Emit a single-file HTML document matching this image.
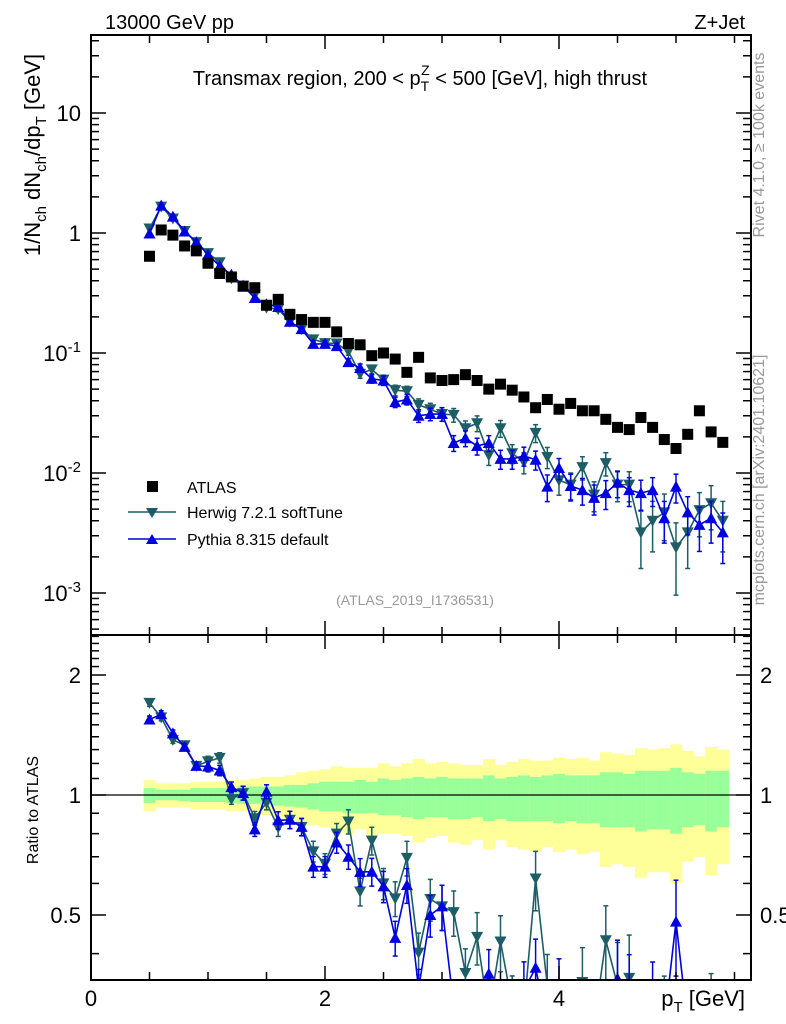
<!DOCTYPE html>
<html><head><meta charset="utf-8"><style>
html,body{margin:0;background:#fff;overflow:hidden;width:786px;height:1024px}
svg{display:block;font-family:"Liberation Sans",Arial,sans-serif}
</style></head><body>
<svg id="c" width="786" height="1024" viewBox="0 0 786 1024" xmlns="http://www.w3.org/2000/svg">
<g id="bands"></g>
<g id="marks"></g>
<g id="axes"></g>
<text x="105" y="29" font-size="20">13000 GeV pp</text>
<text x="745" y="29" font-size="20" text-anchor="end">Z+Jet</text>
<text x="420" y="85" font-size="20" text-anchor="middle">Transmax region, 200 &lt; p<tspan font-size="14" dy="6">T</tspan><tspan font-size="14" dx="-8" dy="-16">Z</tspan><tspan dy="10"> &lt; 500 [GeV], high thrust</tspan></text>
<text transform="translate(40,155) rotate(-90)" font-size="22" text-anchor="middle">1/N<tspan font-size="15" dy="6">ch</tspan><tspan dy="-6"> dN</tspan><tspan font-size="15" dy="6">ch</tspan><tspan dy="-6">/dp</tspan><tspan font-size="15" dy="6">T</tspan><tspan dy="-6"> [GeV]</tspan></text>
<text transform="translate(38,810) rotate(-90)" font-size="16" text-anchor="middle">Ratio to ATLAS</text>
<text x="745" y="1006" font-size="22" text-anchor="end">p<tspan font-size="15" dy="6">T</tspan><tspan dy="-6"> [GeV]</tspan></text>
<text transform="translate(764,145) rotate(-90)" font-size="16" fill="#999" text-anchor="middle">Rivet 4.1.0, ≥ 100k events</text>
<text transform="translate(764,480) rotate(-90)" font-size="16" fill="#999" text-anchor="middle">mcplots.cern.ch [arXiv:2401.10621]</text>
<text x="415" y="605" font-size="14" fill="#999" text-anchor="middle">(ATLAS_2019_I1736531)</text>
<g>
<rect x="147" y="481" width="11" height="11" fill="#000"/>
<text x="187" y="493" font-size="16">ATLAS</text>
<line x1="128" y1="512" x2="176" y2="512" stroke="#1c5d66" stroke-width="1.5"/>
<path d="M146,508 L158,508 L152,518 Z" fill="#1c5d66"/>
<text x="187" y="518" font-size="16">Herwig 7.2.1 softTune</text>
<line x1="128" y1="539" x2="176" y2="539" stroke="#0000e0" stroke-width="1.5"/>
<path d="M146,544 L158,544 L152,534 Z" fill="#0000e0"/>
<text x="187" y="545" font-size="16">Pythia 8.315 default</text>
</g>
</svg>
<script>
const pt=[0.5,0.6,0.7,0.8,0.9,1.0,1.1,1.2,1.3,1.4,1.5,1.6,1.7,1.8,1.9,2.0,2.1,2.2,2.3,2.4,2.5,2.6,2.7,2.8,2.9,3.0,3.1,3.2,3.3,3.4,3.5,3.6,3.7,3.8,3.9,4.0,4.1,4.2,4.3,4.4,4.5,4.6,4.7,4.8,4.9,5.0,5.1,5.2,5.3,5.4];
const atlas=[0.64,1.06,0.96,0.78,0.71,0.56,0.46,0.43,0.36,0.35,0.25,0.28,0.21,0.19,0.18,0.18,0.15,0.12,0.117,0.095,0.10,0.089,0.069,0.092,0.062,0.059,0.060,0.066,0.059,0.050,0.055,0.049,0.043,0.035,0.041,0.034,0.038,0.033,0.033,0.028,0.024,0.023,0.029,0.024,0.019,0.016,0.021,0.033,0.022,0.018];
const herwig=[1.09,1.66,1.32,1.04,0.84,0.68,0.57,0.42,0.364,0.306,0.239,0.232,0.182,0.158,0.130,0.121,0.120,0.103,0.067,0.073,0.060,0.049,0.048,0.037,0.034,0.031,0.0305,0.0236,0.026,0.0141,0.0236,0.0146,0.0123,0.0216,0.0136,0.0087,0.0080,0.0112,0.0066,0.0121,0.0080,0.0080,0.0032,0.0040,0.0047,0.0024,0.0032,0.0049,0.0056,0.0040];
const pythia=[0.99,1.69,1.37,1.03,0.84,0.66,0.53,0.45,0.364,0.287,0.255,0.242,0.182,0.158,0.119,0.119,0.114,0.084,0.075,0.061,0.059,0.039,0.041,0.030,0.031,0.031,0.0178,0.0195,0.0168,0.0178,0.0131,0.0131,0.0139,0.0129,0.0077,0.0110,0.0078,0.0072,0.0062,0.0068,0.0083,0.0072,0.0068,0.0072,0.0042,0.0077,0.0047,0.0037,0.0042,0.0032];
const herwigErr=[0.02,0.02,0.02,0.02,0.02,0.03,0.03,0.03,0.04,0.04,0.04,0.05,0.05,0.05,0.06,0.06,0.06,0.07,0.08,0.08,0.09,0.1,0.1,0.12,0.12,0.13,0.13,0.15,0.15,0.18,0.16,0.18,0.2,0.17,0.2,0.25,0.25,0.22,0.28,0.22,0.28,0.28,0.5,0.45,0.42,0.6,0.5,0.4,0.4,0.45];
const pythiaErr=[0.02,0.02,0.02,0.02,0.02,0.03,0.03,0.03,0.04,0.04,0.04,0.05,0.05,0.05,0.06,0.06,0.06,0.07,0.08,0.08,0.09,0.1,0.1,0.12,0.12,0.13,0.15,0.15,0.16,0.15,0.18,0.18,0.18,0.18,0.25,0.2,0.25,0.25,0.28,0.27,0.25,0.27,0.28,0.27,0.38,0.27,0.35,0.4,0.38,0.45];
const yelUp=[1.09,1.07,1.07,1.07,1.08,1.08,1.08,1.09,1.09,1.10,1.11,1.11,1.12,1.14,1.15,1.16,1.18,1.17,1.17,1.17,1.20,1.18,1.20,1.23,1.20,1.21,1.20,1.19,1.19,1.23,1.19,1.21,1.23,1.22,1.22,1.24,1.23,1.24,1.22,1.28,1.27,1.26,1.31,1.30,1.31,1.34,1.29,1.25,1.32,1.30];
const yelDn=[0.91,0.93,0.93,0.93,0.92,0.92,0.92,0.91,0.91,0.90,0.89,0.88,0.87,0.86,0.84,0.83,0.82,0.80,0.82,0.79,0.80,0.80,0.79,0.76,0.78,0.79,0.76,0.75,0.77,0.73,0.77,0.74,0.73,0.72,0.74,0.72,0.73,0.71,0.72,0.66,0.67,0.66,0.62,0.64,0.64,0.60,0.68,0.70,0.63,0.67];
const grnUp=[1.04,1.03,1.03,1.03,1.04,1.04,1.04,1.04,1.05,1.05,1.05,1.05,1.06,1.06,1.07,1.08,1.08,1.08,1.09,1.08,1.10,1.09,1.10,1.11,1.10,1.11,1.10,1.10,1.10,1.12,1.10,1.11,1.12,1.11,1.12,1.13,1.12,1.12,1.12,1.14,1.14,1.13,1.15,1.15,1.15,1.17,1.14,1.13,1.15,1.15];
const grnDn=[0.955,0.97,0.97,0.965,0.96,0.96,0.96,0.955,0.95,0.95,0.945,0.94,0.935,0.93,0.92,0.91,0.91,0.90,0.90,0.90,0.89,0.89,0.88,0.87,0.88,0.88,0.87,0.87,0.88,0.86,0.87,0.86,0.86,0.86,0.86,0.85,0.86,0.85,0.85,0.83,0.83,0.83,0.81,0.82,0.82,0.80,0.83,0.84,0.81,0.83];
const xTicks=[0,2,4];
const mainTicks=[{v:10,l:"10"},{v:1,l:"1"},{v:0.1,l:"10^-1"},{v:0.01,l:"10^-2"},{v:0.001,l:"10^-3"}];
const ratioTicks=[{v:2,l:"2"},{v:1,l:"1"},{v:0.5,l:"0.5"}];

const NS="http://www.w3.org/2000/svg";
const L=91,R=751,T=35,M=635,B=980;
const clampY=y=>Math.max(0,Math.min(1024,y));
const X=v=>L+v*117;
const Y=v=>clampY(233-120*Math.log10(v));
const YR=v=>clampY(795-398.6*Math.log10(v));
function el(tag,attrs,parent){const e=document.createElementNS(NS,tag);for(const k in attrs)e.setAttribute(k,attrs[k]);parent.appendChild(e);return e;}
const bands=document.getElementById('bands'),marks=document.getElementById('marks'),axes=document.getElementById('axes');
const HC="#1c5d66",PC="#0000e0";

const cy=document.createElementNS(NS,'clipPath');cy.setAttribute('id','rc');bands.appendChild(cy);
el('rect',{x:L,y:M,width:R-L,height:B-M},cy);
const cm=document.createElementNS(NS,'clipPath');cm.setAttribute('id','mc');bands.appendChild(cm);
el('rect',{x:L,y:T,width:R-L,height:M-T},cm);
pt.forEach((p,i)=>{
  const x0=X(p-0.05),w=X(p+0.05)-x0+0.5;
  const a=el('rect',{x:x0,y:YR(yelUp[i]),width:w,height:YR(yelDn[i])-YR(yelUp[i]),fill:"#ffff99"},bands);
  
  
  const g=el('rect',{x:x0,y:YR(grnUp[i]),width:w,height:YR(grnDn[i])-YR(grnUp[i]),fill:"#99ff99"},bands);
  
  
});
el('line',{x1:L,y1:YR(1),x2:R,y2:YR(1),stroke:"#000","stroke-width":1.2},bands);

function drawSeries(vals,errs,color,down,yf,clip,name,ratio){
  const g=el('g',{'clip-path':'url(#'+clip+')'},marks);
  
  
  const v=vals.map((d,i)=>ratio?d/atlas[i]:d);
  el('polyline',{points:pt.map((p,i)=>X(p)+','+yf(v[i])).join(' '),fill:"none",stroke:color,"stroke-width":1.6},g);
  pt.forEach((p,i)=>{
    const x=X(p),y=yf(v[i]),up=yf(v[i]*(1+errs[i])),dn=yf(Math.max(v[i]*(1-errs[i]),1e-6));
    el('line',{x1:x,y1:up,x2:x,y2:dn,stroke:color,"stroke-width":1.5},g);
    el('line',{x1:x-2.5,y1:up,x2:x+2.5,y2:up,stroke:color,"stroke-width":1.5},g);
    el('line',{x1:x-2.5,y1:dn,x2:x+2.5,y2:dn,stroke:color,"stroke-width":1.5},g);
    if(y>=1024||y<=0)return;
    const d=down?`M${x-6},${y-5} L${x+6},${y-5} L${x},${y+6} Z`:`M${x-6},${y+5} L${x+6},${y+5} L${x},${y-6} Z`;
    const m=el('path',{d:d,fill:color},g);
    
    
  });
}
drawSeries(herwig,herwigErr,HC,true,Y,'mc','herwig-series',false);
drawSeries(pythia,pythiaErr,PC,false,Y,'mc','pythia-series',false);
drawSeries(herwig,herwigErr,HC,true,YR,'rc','herwig-ratio',true);
drawSeries(pythia,pythiaErr,PC,false,YR,'rc','pythia-ratio',true);
const ag=el('g',{'clip-path':'url(#mc)'},marks);
pt.forEach((p,i)=>{
  const s=el('rect',{x:X(p)-5.5,y:Y(atlas[i])-5.5,width:11,height:11,fill:"#000"},ag);
  
  
});

el('rect',{x:L,y:T,width:R-L,height:M-T,fill:"none",stroke:"#000","stroke-width":2},axes);
el('rect',{x:L,y:M,width:R-L,height:B-M,fill:"none",stroke:"#000","stroke-width":2},axes);
for(let v=0;v<=5.6;v+=0.5){
  const x=X(v); if(x>R)break;
  const len=(Math.abs(v%2)<1e-6)?14:8;
  [[T,1],[M,-1],[M,1],[B,-1]].forEach(([y,s])=>el('line',{x1:x,y1:y,x2:x,y2:y+s*len,stroke:"#000","stroke-width":1.5},axes));
}
xTicks.forEach(v=>{const t=el('text',{x:X(v),y:1006,"font-size":22,"text-anchor":"middle"},axes);t.textContent=v;
  
  });
for(let e=-4;e<=1;e++){for(let k=1;k<10;k++){const v=k*Math.pow(10,e),y=Y(v);if(y<T||y>M)continue;const len=k==1?15:8;
  el('line',{x1:L,y1:y,x2:L+len,y2:y,stroke:"#000","stroke-width":1.5},axes);
  el('line',{x1:R,y1:y,x2:R-len,y2:y,stroke:"#000","stroke-width":1.5},axes);}}
mainTicks.forEach(t=>{const y=Y(t.v);const tx=el('text',{x:81,y:y+8,"font-size":22,"text-anchor":"end"},axes);
  
  
  if(t.l.indexOf('^')>0){const p=t.l.split('^');tx.textContent=p[0];const s=el('tspan',{"font-size":15,dy:-9},tx);s.textContent=p[1];}
  else tx.textContent=t.l;});
[0.4,0.5,0.6,0.7,0.8,0.9,1,1.1,1.2,1.3,1.4,1.5,1.6,1.7,1.8,1.9,2,2.1,2.2,2.3,2.4,2.5].forEach(v=>{const y=YR(v);if(y<M||y>B)return;
  const major=(v==0.5||v==1||v==2);const len=major?15:8;
  el('line',{x1:L,y1:y,x2:L+len,y2:y,stroke:"#000","stroke-width":1.5},axes);
  el('line',{x1:R,y1:y,x2:R-len,y2:y,stroke:"#000","stroke-width":1.5},axes);});
ratioTicks.forEach(t=>{const y=YR(t.v);
  const a=el('text',{x:81,y:y+8,"font-size":22,"text-anchor":"end"},axes);a.textContent=t.l;
  
  
  const b=el('text',{x:760,y:y+8,"font-size":22},axes);b.textContent=t.l;
  
  });
</script>
</body></html>
